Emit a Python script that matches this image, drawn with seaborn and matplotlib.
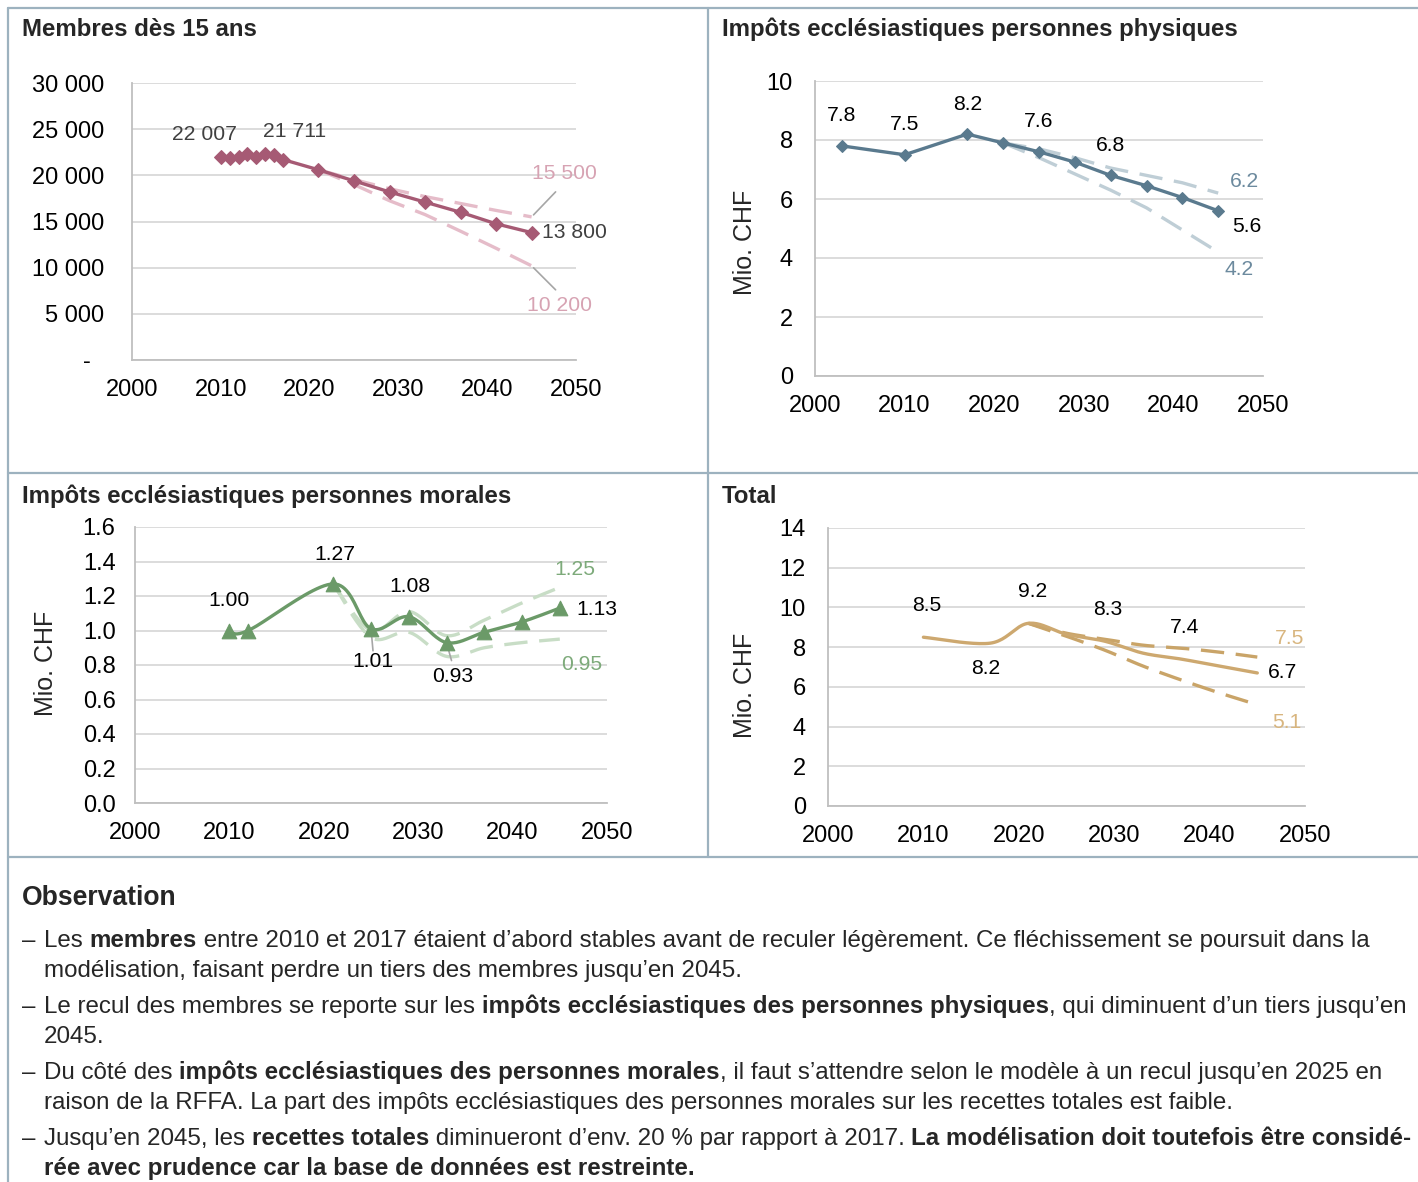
import numpy as np
import matplotlib
matplotlib.use("Agg")
import matplotlib.pyplot as plt
from matplotlib.lines import Line2D
from matplotlib.font_manager import FontProperties
import seaborn as sns

# ---------------- data ----------------
mem_years = [2010, 2011, 2012, 2013, 2014, 2015, 2016, 2017, 2021, 2025, 2029, 2033, 2037, 2041, 2045]
mem_vals = [22007, 21900, 21950, 22300, 21950, 22350, 22200, 21711, 20600, 19400, 18200, 17100, 16000, 14750, 13800]
scen_years = [2021, 2025, 2029, 2033, 2037, 2041, 2045]
mem_hi = [20600, 19550, 18550, 17700, 16950, 16200, 15500]
mem_lo = [20600, 19000, 17250, 15750, 13950, 12100, 10200]

phys_years = [2003, 2010, 2017, 2021, 2025, 2029, 2033, 2037, 2041, 2045]
phys_vals = [7.8, 7.5, 8.2, 7.9, 7.6, 7.25, 6.8, 6.45, 6.05, 5.6]
phys_hi = [7.9, 7.7, 7.4, 7.05, 6.8, 6.55, 6.2]
phys_lo = [7.9, 7.4, 6.85, 6.3, 5.7, 4.95, 4.2]

mor_years = [2010, 2012, 2021, 2025, 2029, 2033, 2037, 2041, 2045]
mor_vals = [1.00, 1.00, 1.27, 1.01, 1.08, 0.93, 0.99, 1.05, 1.13]
mor_hi = [1.27, 1.00, 1.11, 0.97, 1.06, 1.16, 1.25]
mor_lo = [1.27, 0.96, 0.99, 0.85, 0.90, 0.93, 0.95]

tot_years = [2010, 2017, 2021, 2025, 2029, 2033, 2037, 2041, 2045]
tot_vals = [8.5, 8.2, 9.2, 8.65, 8.3, 7.7, 7.4, 7.05, 6.7]
tot_hi = [9.2, 8.7, 8.4, 8.1, 7.95, 7.75, 7.5]
tot_lo = [9.2, 8.55, 7.85, 7.05, 6.35, 5.7, 5.1]

x_ticks = [2000, 2010, 2020, 2030, 2040, 2050]

titles = ["Membres dès 15 ans", "Impôts ecclésiastiques personnes physiques",
          "Impôts ecclésiastiques personnes morales", "Total"]
ylabel = "Mio. CHF"

obs_title = "Observation"
obs_lines = [
    ("– ", [("Les ", False), ("membres", True), (" entre 2010 et 2017 étaient d’abord stables avant de reculer légèrement. Ce fléchissement se poursuit dans la", False)]),
    ("", [("modélisation, faisant perdre un tiers des membres jusqu’en 2045.", False)]),
    ("– ", [("Le recul des membres se reporte sur les ", False), ("impôts ecclésiastiques des personnes physiques", True), (", qui diminuent d’un tiers jusqu’en", False)]),
    ("", [("2045.", False)]),
    ("– ", [("Du côté des ", False), ("impôts ecclésiastiques des personnes morales", True), (", il faut s’attendre selon le modèle à un recul jusqu’en 2025 en", False)]),
    ("", [("raison de la RFFA. La part des impôts ecclésiastiques des personnes morales sur les recettes totales est faible.", False)]),
    ("– ", [("Jusqu’en 2045, les ", False), ("recettes totales", True), (" diminueront d’env. 20 % par rapport à 2017. ", False), ("La modélisation doit toutefois être considé-", True)]),
    ("", [("rée avec prudence car la base de données est restreinte.", True)]),
]
obs_y = [940, 970, 1006, 1036, 1072, 1102, 1138, 1168]

# ---------------- style ----------------
sns.set_theme(style="white")
plt.rcParams["font.family"] = ["Liberation Sans", "DejaVu Sans"]
plt.rcParams["axes.unicode_minus"] = False

W, H = 1418, 1182
fig = plt.figure(figsize=(W / 100, H / 100), dpi=100)
fig.patch.set_facecolor("white")

BORDER = "#9DB2BF"
GRID = "#D9D9D9"
SPINE = "#BFBFBF"
TICK_FS = 17
LAB_FS = 15.2
YLAB_FS = 18


def fx(x):
    return x / W


def fy(y):
    return 1 - y / H


def add_ax(l, t, r, b):
    return fig.add_axes([fx(l), fy(b), (r - l) / W, (b - t) / H])


def hline(x0, x1, y):
    fig.add_artist(Line2D([fx(x0), fx(x1)], [fy(y), fy(y)], color=BORDER, lw=1.6, transform=fig.transFigure))


def vline(x, y0, y1):
    fig.add_artist(Line2D([fx(x), fx(x)], [fy(y0), fy(y1)], color=BORDER, lw=1.6, transform=fig.transFigure))


hline(8, W, 8)
hline(8, W, 473)
hline(8, W, 857)
vline(8, 8, H)
vline(708, 8, 857)


def smooth(xs, ys, n=24):
    pts = np.column_stack([np.asarray(xs, float), np.asarray(ys, float)])
    out = [pts[0]]
    for i in range(len(pts) - 1):
        p0, p3 = pts[i], pts[i + 1]
        prev = pts[i - 1] if i > 0 else pts[i]
        nxt = pts[i + 2] if i + 2 < len(pts) else pts[i + 1]
        c1 = p0 + (p3 - prev) / 6
        c2 = p3 - (nxt - p0) / 6
        t = np.linspace(0, 1, n)[1:, None]
        seg = (1 - t) ** 3 * p0 + 3 * (1 - t) ** 2 * t * c1 + 3 * (1 - t) * t ** 2 * c2 + t ** 3 * p3
        out.extend(seg)
    out = np.array(out)
    return out[:, 0], out[:, 1]


def style_ax(ax, ymax, ystep, ypad, fmt):
    ax.set_xlim(2000, 2050)
    ax.set_ylim(0, ymax)
    ax.set_xticks(x_ticks)
    yt = np.arange(0, ymax + ystep / 2, ystep)
    ax.set_yticks(yt)
    ax.set_yticklabels([fmt(v) for v in yt])
    ax.grid(axis="y", color=GRID, lw=1.3)
    ax.grid(axis="x", visible=False)
    ax.set_axisbelow(True)
    for s in ["top", "right"]:
        ax.spines[s].set_visible(False)
    for s in ["left", "bottom"]:
        ax.spines[s].set_color(SPINE)
        ax.spines[s].set_linewidth(1.3)
    ax.tick_params(axis="x", length=0, pad=13.5, labelsize=TICK_FS, labelcolor="black")
    ax.tick_params(axis="y", length=0, pad=ypad, labelsize=TICK_FS, labelcolor="black")
    ax.set_facecolor("white")


def set_ylab(ax, xc, yc):
    # xc, yc: pixel centre of the rotated label in the image
    ax.set_ylabel(ylabel, fontsize=YLAB_FS)
    bb = ax.get_position()
    l, b = bb.x0 * W, (1 - bb.y0) * H
    w, h = bb.width * W, bb.height * H
    ax.yaxis.set_label_coords((xc + 12 - l) / w, (b - yc) / h)


def lab(ax, x, y, s, dx, dy, color="black", ha="center", size=LAB_FS):
    # dx, dy in pixels (dy positive = downwards on the image)
    ax.annotate(s, xy=(x, y), xytext=(dx * 0.72, -dy * 0.72), textcoords="offset points",
                ha=ha, va="center", fontsize=size, color=color)


def leader(ax, x, y, dx, dy, color="#A6A6A6"):
    ax.annotate("", xy=(x, y), xytext=(dx * 0.72, -dy * 0.72), textcoords="offset points",
                arrowprops=dict(arrowstyle="-", color=color, lw=1.2, shrinkA=0, shrinkB=2))


def dashed(ax, xs, ys, color, smooth_it=False):
    if smooth_it:
        xs, ys = smooth(xs, ys)
    sns.lineplot(x=list(xs), y=list(ys), ax=ax, color=color, lw=2.4, sort=False, estimator=None)
    ax.lines[-1].set_dashes([7, 3.5])
    ax.lines[-1].set_dash_capstyle("butt")


# ---------------- panel 1: members ----------------
C1, C1d, C1t = "#A65A74", "#E5BCC9", "#D7A3B3"
ax1 = add_ax(132, 83, 576, 360)
style_ax(ax1, 30000, 5000, 20, lambda v: "-  " if v == 0 else f"{int(v):,}".replace(",", " "))
dashed(ax1, scen_years, mem_hi, C1d)
dashed(ax1, scen_years, mem_lo, C1d)
sns.lineplot(x=mem_years, y=mem_vals, ax=ax1, color=C1, lw=2.4, marker="D", markersize=7.5,
             markeredgecolor=C1, sort=False, estimator=None)
lab(ax1, mem_years[0], mem_vals[0], "22 007", -16, -22, color="#404040")
lab(ax1, mem_years[7], mem_vals[7], "21 711", 12, -28, color="#404040")
lab(ax1, mem_years[-1], mem_vals[-1], "13 800", 10, 0, color="#404040", ha="left")
leader(ax1, scen_years[-1], mem_hi[-1], 24, -25)
leader(ax1, scen_years[-1], mem_lo[-1], 24, 24)
lab(ax1, scen_years[-1], mem_hi[-1], "15 500", 33, -43, color=C1t)
lab(ax1, scen_years[-1], mem_lo[-1], "10 200", 28, 40, color=C1t)

# ---------------- panel 2: physical persons ----------------
C2, C2d, C2t = "#5A7A8E", "#BFCED6", "#6C8A9E"
ax2 = add_ax(815, 81, 1263, 376)
style_ax(ax2, 10, 2, 16, lambda v: f"{int(v)}")
dashed(ax2, scen_years, phys_hi, C2d)
dashed(ax2, scen_years, phys_lo, C2d)
sns.lineplot(x=phys_years, y=phys_vals, ax=ax2, color=C2, lw=2.4, marker="D", markersize=6,
             markeredgecolor=C2, sort=False, estimator=None)
for i in [0, 1, 2, 4, 6]:
    lab(ax2, phys_years[i], phys_vals[i], f"{phys_vals[i]:.1f}", 0, -30)
lab(ax2, phys_years[-1], phys_vals[-1], "5.6", 29, 16)
lab(ax2, scen_years[-1], phys_hi[-1], "6.2", 26, -12, color=C2t)
lab(ax2, scen_years[-1], phys_lo[-1], "4.2", 21, 17, color=C2t)
set_ylab(ax2, 745, 242)

# ---------------- panel 3: legal persons ----------------
C3, C3d, C3t = "#6B9A68", "#C8DDC6", "#7DAA7A"
ax3 = add_ax(135, 527, 607, 803)
style_ax(ax3, 1.6, 0.2, 14, lambda v: f"{v:.1f}")
dashed(ax3, scen_years, mor_hi, C3d, smooth_it=True)
dashed(ax3, scen_years, mor_lo, C3d, smooth_it=True)
sx, sy = smooth(mor_years, mor_vals)
sns.lineplot(x=list(sx), y=list(sy), ax=ax3, color=C3, lw=2.4, sort=False, estimator=None)
sns.scatterplot(x=mor_years, y=mor_vals, ax=ax3, color=C3, marker="^", s=110, edgecolor=C3, zorder=5)
lab(ax3, mor_years[0], mor_vals[0], "1.00", 0, -30)
lab(ax3, mor_years[2], mor_vals[2], "1.27", 2, -29)
lab(ax3, mor_years[4], mor_vals[4], "1.08", 1, -30)
leader(ax3, mor_years[3], mor_vals[3], 2, 22)
lab(ax3, mor_years[3], mor_vals[3], "1.01", 2, 33)
leader(ax3, mor_years[5], mor_vals[5], 5, 18)
lab(ax3, mor_years[5], mor_vals[5], "0.93", 6, 34)
lab(ax3, mor_years[-1], mor_vals[-1], "1.13", 17, 1, ha="left")
lab(ax3, scen_years[-1], mor_hi[-1], "1.25", 15, -18, color=C3t)
lab(ax3, scen_years[-1], mor_lo[-1], "0.95", 22, 25, color=C3t)
set_ylab(ax3, 46, 663)

# ---------------- panel 4: total ----------------
C4, C4d, C4t = "#CDA86F", "#C9A468", "#D8B57E"
ax4 = add_ax(828, 528, 1305, 806)
style_ax(ax4, 14, 2, 16, lambda v: f"{int(v)}")
dashed(ax4, scen_years, tot_hi, C4d, smooth_it=True)
dashed(ax4, scen_years, tot_lo, C4d, smooth_it=True)
sx, sy = smooth(tot_years, tot_vals)
sns.lineplot(x=list(sx), y=list(sy), ax=ax4, color=C4, lw=2.4, sort=False, estimator=None)
lab(ax4, tot_years[0], tot_vals[0], "8.5", 3, -32)
lab(ax4, tot_years[1], tot_vals[1], "8.2", -4, 25)
lab(ax4, tot_years[2], tot_vals[2], "9.2", 4, -32)
lab(ax4, tot_years[4], tot_vals[4], "8.3", 3, -32)
lab(ax4, tot_years[6], tot_vals[6], "7.4", 4, -32)
lab(ax4, tot_years[-1], tot_vals[-1], "6.7", 11, 0, ha="left")
lab(ax4, scen_years[-1], tot_hi[-1], "7.5", 32, -19, color=C4t)
lab(ax4, scen_years[-1], tot_lo[-1], "5.1", 29, 18, color=C4t)
set_ylab(ax4, 745, 685)

for ax in [ax1, ax2, ax3, ax4]:
    leg = ax.get_legend()
    if leg:
        leg.remove()

# ---------------- titles ----------------
TITLE_FS = 17.3
fig.text(fx(22), fy(29.5), titles[0], fontsize=TITLE_FS, fontweight="bold", va="center", ha="left")
fig.text(fx(722), fy(29.5), titles[1], fontsize=TITLE_FS, fontweight="bold", va="center", ha="left")
fig.text(fx(22), fy(496), titles[2], fontsize=TITLE_FS, fontweight="bold", va="center", ha="left")
fig.text(fx(722), fy(496), titles[3], fontsize=TITLE_FS, fontweight="bold", va="center", ha="left")

# ---------------- observation text ----------------
fig.text(fx(22), fy(898), obs_title, fontsize=19.1, fontweight="bold", va="center", ha="left")

BODY_FS = 17.35
renderer = fig.canvas.get_renderer()


def text_width(s, bold):
    fp = FontProperties(family=["Liberation Sans", "DejaVu Sans"], size=BODY_FS,
                        weight="bold" if bold else "normal")
    w1, _, _ = renderer.get_text_width_height_descent("|" + s + "|", fp, ismath=False)
    w0, _, _ = renderer.get_text_width_height_descent("||", fp, ismath=False)
    return w1 - w0


for (bullet, segs), yc in zip(obs_lines, obs_y):
    base = yc + 7
    if bullet:
        fig.text(fx(22), fy(base), "–", fontsize=BODY_FS, va="baseline", ha="left")
    x = 44
    for s, bold in segs:
        fig.text(fx(x), fy(base), s, fontsize=BODY_FS, va="baseline", ha="left",
                 fontweight="bold" if bold else "normal")
        x += text_width(s, bold)

fig.savefig("out.png", dpi=100, facecolor="white")
